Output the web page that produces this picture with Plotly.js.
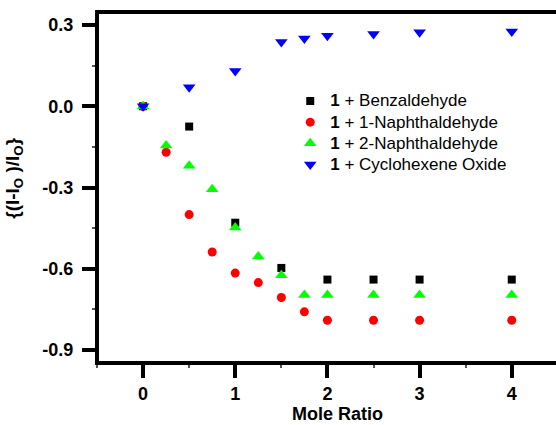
<!DOCTYPE html>
<html>
<head>
<meta charset="utf-8">
<script src="https://cdn.plot.ly/plotly-3.0.1.min.js"></script>
<style>html,body{margin:0;padding:0;background:#fff;}#chart{width:556px;height:425px;}</style>
</head>
<body>
<div id="chart"></div>
<script>
const seriesNames = ["<b>1</b> + Benzaldehyde", "<b>1</b> + 1-Naphthaldehyde", "<b>1</b> + 2-Naphthaldehyde", "<b>1</b> + Cyclohexene Oxide"];

const benzX = [0, 0.5, 1, 1.5, 2, 2.5, 3, 4];
const benzY = [0, -0.075, -0.43, -0.597, -0.64, -0.64, -0.64, -0.64];

const naph1X = [0, 0.25, 0.5, 0.75, 1, 1.25, 1.5, 1.75, 2, 2.5, 3, 4];
const naph1Y = [0, -0.17, -0.40, -0.538, -0.616, -0.651, -0.706, -0.759, -0.79, -0.79, -0.79, -0.79];

const naph2X = [0, 0.25, 0.5, 0.75, 1, 1.25, 1.5, 1.75, 2, 2.5, 3, 4];
const naph2Y = [0, -0.145, -0.22, -0.306, -0.448, -0.555, -0.624, -0.697, -0.697, -0.697, -0.697, -0.697];

const cycloX = [0, 0.5, 1, 1.5, 1.75, 2, 2.5, 3, 4];
const cycloY = [0, 0.07, 0.13, 0.237, 0.25, 0.26, 0.267, 0.273, 0.276];

const xTicks = [0, 1, 2, 3, 4];
const yTicks = [-0.9, -0.6, -0.3, 0.0, 0.3];
const yTickText = ["-0.9", "-0.6", "-0.3", "0.0", "0.3"];
const xTitle = "<b>Mole Ratio</b>";
const yTitle = "<b>{(I-I<sub>O</sub> )/I<sub>O</sub>}</b>";

const big = s => '<span style="font-size:17px">' + s + '</span>';

const traces = [
  {x: benzX, y: benzY, name: big(seriesNames[0]), mode: "markers", type: "scatter",
   marker: {symbol: "square", size: 8, color: "#000000"}},
  {x: naph1X, y: naph1Y, name: big(seriesNames[1]), mode: "markers", type: "scatter",
   marker: {symbol: "circle", size: 9, color: "#ff0000"}},
  {x: naph2X, y: naph2Y, name: big(seriesNames[2]), mode: "markers", type: "scatter",
   marker: {symbol: "triangle-up", size: 11, color: "#00ff00"}},
  {x: cycloX, y: cycloY, name: big(seriesNames[3]), mode: "markers", type: "scatter",
   marker: {symbol: "triangle-down", size: 11, color: "#0000ff"}}
];

const F = "Arial, 'Liberation Sans', sans-serif";
const layout = {
  width: 556, height: 425,
  margin: {l: 97, r: 0, t: 12, b: 62},
  paper_bgcolor: "#fff", plot_bgcolor: "#fff",
  font: {family: F, color: "#000"},
  showlegend: true,
  legend: {x: 0.421, y: 0.791, xanchor: "left", yanchor: "top",
           bgcolor: "rgba(0,0,0,0)", font: {size: 14, color: "#000", family: F},
           itemwidth: 30, tracegroupgap: 0},
  xaxis: {
    range: [-0.5, 4.48], showgrid: false, zeroline: false, showline: false,
    ticks: "outside", ticklen: 14, tickwidth: 4, tickcolor: "#000",
    tickvals: xTicks, ticktext: xTicks.map(String),
    tickfont: {size: 18, family: F, weight: "bold"},
    minor: {tick0: 0.5, dtick: 1, ticks: "outside", ticklen: 4, tickwidth: 2, tickcolor: "#555"}
  },
  yaxis: {
    range: [-0.948, 0.348], showgrid: false, zeroline: false, showline: false,
    ticks: "outside", ticklen: 14, tickwidth: 4, tickcolor: "#000",
    tickvals: yTicks, ticktext: yTickText, ticklabelstandoff: 5,
    tickfont: {size: 18, family: F, weight: "bold"},
    minor: {tick0: 0.15, dtick: 0.3, ticks: "outside", ticklen: 4, tickwidth: 2, tickcolor: "#555"}
  },
  shapes: [
    {type: "line", xref: "paper", yref: "paper", x0: 0, x1: 0, y0: -0.004, y1: 1.004, line: {color: "#000", width: 4}},
    {type: "line", xref: "paper", yref: "paper", x0: -0.004, x1: 1, y0: 0, y1: 0, line: {color: "#000", width: 4}},
    {type: "line", xref: "paper", yref: "paper", x0: -0.004, x1: 1, y0: 1, y1: 1, line: {color: "#000", width: 4}}
  ],
  annotations: [
    {text: xTitle, xref: "paper", yref: "paper", x: 0.523, y: -0.144, xanchor: "center", yanchor: "middle",
     showarrow: false, font: {size: 18, family: F}},
    {text: yTitle, xref: "paper", yref: "paper", x: -0.18, y: 0.526, xanchor: "center", yanchor: "middle",
     textangle: -90, showarrow: false, font: {size: 19, family: F}}
  ]
};

Plotly.newPlot("chart", traces, layout, {displayModeBar: false, staticPlot: true});
</script>
</body>
</html>
